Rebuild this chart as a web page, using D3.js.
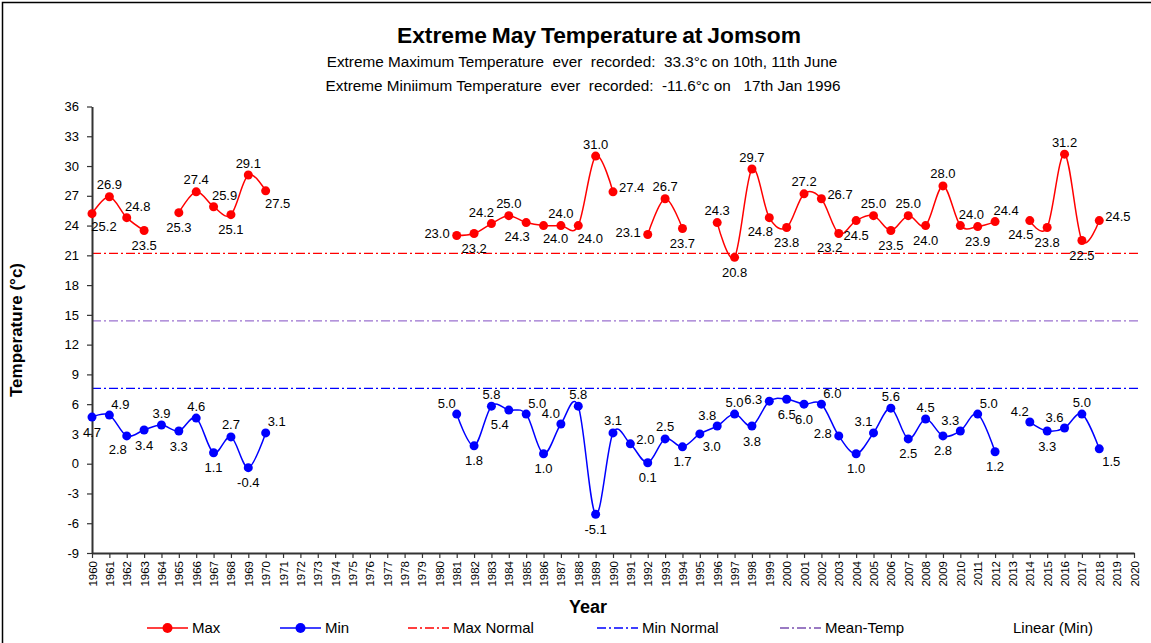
<!DOCTYPE html>
<html><head><meta charset="utf-8">
<script src="https://cdn.jsdelivr.net/npm/d3@7"></script>
<style>
body{margin:0;background:#fff}
svg{display:block;font-family:"Liberation Sans",Arial,sans-serif}
</style>
</head><body>
<svg id="chart" width="1151" height="643"></svg>
<script>
// ---------- data ----------
const years = [1960,1961,1962,1963,1964,1965,1966,1967,1968,1969,1970,1971,1972,1973,1974,1975,1976,1977,1978,1979,
  1980,1981,1982,1983,1984,1985,1986,1987,1988,1989,1990,1991,1992,1993,1994,1995,1996,1997,1998,1999,
  2000,2001,2002,2003,2004,2005,2006,2007,2008,2009,2010,2011,2012,2013,2014,2015,2016,2017,2018];
const maxTemp = [25.2,26.9,24.8,23.5,null,25.3,27.4,25.9,25.1,29.1,27.5,null,null,null,null,null,null,null,null,null,
  null,23.0,23.2,24.2,25.0,24.3,24.0,24.0,24.0,31.0,27.4,null,23.1,26.7,23.7,null,24.3,20.8,29.7,24.8,
  23.8,27.2,26.7,23.2,24.5,25.0,23.5,25.0,24.0,28.0,24.0,23.9,24.4,null,24.5,23.8,31.2,22.5,24.5];
const minTemp = [4.7,4.9,2.8,3.4,3.9,3.3,4.6,1.1,2.7,-0.4,3.1,null,null,null,null,null,null,null,null,null,
  null,5.0,1.8,5.8,5.4,5.0,1.0,4.0,5.8,-5.1,3.1,2.0,0.1,2.5,1.7,3.0,3.8,5.0,3.8,6.3,
  6.5,6.0,6.0,2.8,1.0,3.1,5.6,2.5,4.5,2.8,3.3,5.0,1.2,null,4.2,3.3,3.6,5.0,1.5];
// label placement codes (t, b, l, r, tl, tr, bl, br)
const maxLabelPos = ["br","t","tr","b",null,"b","t","tr","b","t","br",null,null,null,null,null,null,null,null,null,
  null,"l","b","tl","t","bl","br","t","br","t","r",null,"l","t","b",null,"t","b","t","bl",
  "b","t","r","bl","b","t","b","t","b","t","tr","b","tr",null,"bl","b","t","b","r"];
const minLabelPos = ["b","tr","bl","b","t","b","t","b","t","b","tr",null,null,null,null,null,null,null,null,null,
  null,"tl","b","t","bl","tr","b","tl","t","b","t","r","b","t","b","br","tl","t","b","l",
  "b","b","tr","l","b","tl","t","b","t","b","tl","tr","b",null,"tl","b","tl","t","br"];
const maxNormal = 21.2;
const meanTemp = 14.4;
const minNormal = 7.6;
const yTicks = [-9,-6,-3,0,3,6,9,12,15,18,21,24,27,30,33,36];
const xTicks = [1960,1961,1962,1963,1964,1965,1966,1967,1968,1969,1970,1971,1972,1973,1974,1975,1976,1977,1978,1979,
  1980,1981,1982,1983,1984,1985,1986,1987,1988,1989,1990,1991,1992,1993,1994,1995,1996,1997,1998,1999,
  2000,2001,2002,2003,2004,2005,2006,2007,2008,2009,2010,2011,2012,2013,2014,2015,2016,2017,2018,2019,2020];
const legendItems = ["Max","Min","Max Normal","Min Normal","Mean-Temp","Linear (Min)"];

// ---------- layout ----------
const svg = d3.select("#chart");
const L = 92, R = 1134, T = 106.5, B = 553;
const x = d3.scaleLinear().domain([1960, 2020]).range([L, R]);
const y = d3.scaleLinear().domain([-9, 36]).range([B, T]);
const RED = "#ff0000", BLUE = "#0000ff", PURPLE = "#9b72cf";
const dashDot = "9,3,2,3";

// outer frame (top & left visible)
svg.append("rect").attr("x",2.5).attr("y",2.5).attr("width",1160).attr("height",660)
  .attr("fill","none").attr("stroke","#000").attr("stroke-width",1.5);

// titles
svg.append("text").attr("x",599).attr("y",43).attr("text-anchor","middle")
  .attr("font-size",22.8).attr("font-weight","bold").attr("word-spacing","-1.5")
  .text("Extreme May Temperature at Jomsom");
svg.append("text").attr("x",582).attr("y",67).attr("text-anchor","middle")
  .attr("font-size",15.3).attr("xml:space","preserve").style("white-space","pre")
  .text("Extreme Maximum Temperature  ever  recorded:  33.3°c on 10th, 11th June");
svg.append("text").attr("x",583).attr("y",91).attr("text-anchor","middle")
  .attr("font-size",15.3).attr("xml:space","preserve").style("white-space","pre")
  .text("Extreme Miniimum Temperature  ever  recorded:  -11.6°c on   17th Jan 1996");

// reference lines
[[maxNormal, RED],[meanTemp, PURPLE],[minNormal, BLUE]].forEach(([v,c]) => {
  svg.append("line").attr("x1",L).attr("x2",R+4).attr("y1",y(v)).attr("y2",y(v))
    .attr("stroke",c).attr("stroke-width",1.2).attr("stroke-dasharray",dashDot);
});

// axes
const yAxis = svg.append("g").attr("transform",`translate(${L},0)`)
  .call(d3.axisLeft(y).tickValues(yTicks).tickSize(5).tickSizeOuter(0).tickPadding(8).tickFormat(d => String(d)));
yAxis.selectAll("text").attr("font-size",13).attr("font-family","Liberation Sans, Arial, sans-serif").attr("fill","#000");
const xAxis = svg.append("g").attr("transform",`translate(0,${B})`)
  .call(d3.axisBottom(x).tickValues(xTicks).tickSize(5).tickSizeOuter(0).tickFormat(d => String(d)));
xAxis.selectAll("text").attr("font-size",11.5).attr("font-family","Liberation Sans, Arial, sans-serif").attr("fill","#000")
  .attr("transform","rotate(-90)").attr("x",-8).attr("y",0).attr("dy","0.35em").style("text-anchor","end");
[yAxis, xAxis].forEach(g => {
  g.select(".domain").attr("stroke","#333").attr("stroke-width",2);
  g.selectAll(".tick line").attr("stroke","#333").attr("stroke-width",1.2);
});

// axis titles
svg.append("text").attr("x",588).attr("y",613).attr("text-anchor","middle")
  .attr("font-size",18).attr("font-weight","bold").text("Year");
svg.append("text").attr("transform","translate(22,330) rotate(-90)").attr("text-anchor","middle")
  .attr("font-size",17).attr("font-weight","bold").text("Temperature (°c)");

// series
const offsets = {t:[0,-12,"middle"], b:[0,15,"middle"], l:[-7,-2,"end"], r:[6,-4,"start"],
  tl:[-10,-11,"middle"], tr:[11,-11,"middle"], bl:[-9,14,"middle"], br:[12,13,"middle"]};
function drawSeries(values, posCodes, color) {
  const pts = years.map((yr,i) => ({yr, v: values[i], pos: posCodes[i]}));
  const line = d3.line().defined(d => d.v !== null).x(d => x(d.yr)).y(d => y(d.v))
    .curve(d3.curveCardinal.tension(0));
  svg.append("path").datum(pts).attr("d", line).attr("fill","none")
    .attr("stroke", color).attr("stroke-width", 1.5);
  const valid = pts.filter(d => d.v !== null);
  svg.append("g").selectAll("circle").data(valid).join("circle")
    .attr("cx", d => x(d.yr)).attr("cy", d => y(d.v)).attr("r", 4.5).attr("fill", color);
  svg.append("g").selectAll("text").data(valid).join("text")
    .attr("x", d => x(d.yr) + offsets[d.pos][0])
    .attr("y", d => y(d.v) + offsets[d.pos][1])
    .attr("text-anchor", d => offsets[d.pos][2])
    .attr("dy","0.35em").attr("font-size",13).attr("fill","#000")
    .text(d => d.v.toFixed(1));
}
drawSeries(maxTemp, maxLabelPos, RED);
drawSeries(minTemp, minLabelPos, BLUE);

// legend
const LY = 628;
const lg = svg.append("g").attr("font-size",15);
const legendSpec = [
  {x:147, color:RED, dot:true, dash:null},
  {x:280, color:BLUE, dot:true, dash:null},
  {x:408, color:RED, dot:false, dash:dashDot},
  {x:597, color:BLUE, dot:false, dash:dashDot},
  {x:780, color:"#7a4fb0", dot:false, dash:dashDot},
  {x:968, color:"none", dot:false, dash:null}
];
legendItems.forEach((name, i) => {
  const s = legendSpec[i];
  if (s.color !== "none") {
    lg.append("line").attr("x1",s.x).attr("x2",s.x+41).attr("y1",LY).attr("y2",LY)
      .attr("stroke",s.color).attr("stroke-width",1.5).attr("stroke-dasharray",s.dash);
    if (s.dot) lg.append("circle").attr("cx",s.x+20.5).attr("cy",LY).attr("r",5).attr("fill",s.color);
  }
  lg.append("text").attr("x",s.x+45).attr("y",LY).attr("dy","0.35em").attr("fill","#000").text(name);
});
</script>
</body></html>
